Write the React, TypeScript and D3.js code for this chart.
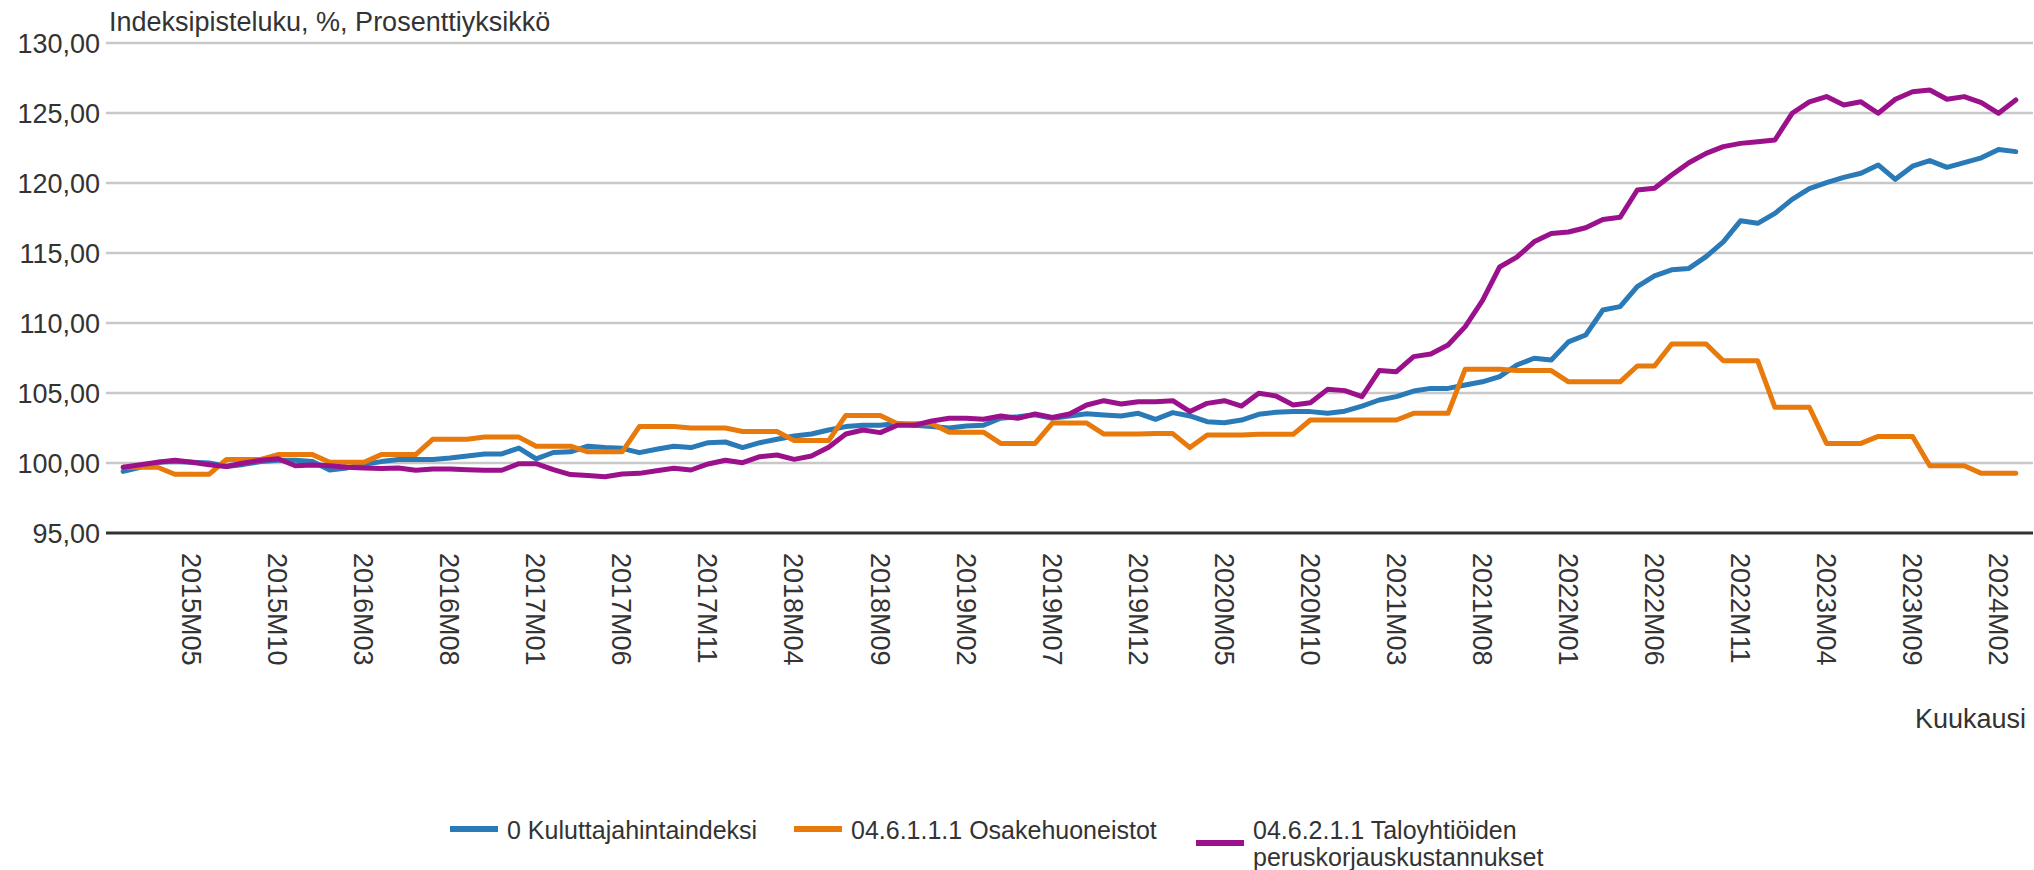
import React from 'react';
import * as d3 from 'd3';

// kuukaudet 2015M01 .. 2024M03
const startYear = 2015;
const monthCount = 111;
const months: string[] = [];
for (let i = 0; i < monthCount; i++) {
  const y = startYear + Math.floor(i / 12);
  const m = (i % 12) + 1;
  months.push(y + 'M' + (m < 10 ? '0' + m : '' + m));
}

const tickLabels = [
  '2015M05', '2015M10', '2016M03', '2016M08', '2017M01', '2017M06', '2017M11', '2018M04',
  '2018M09', '2019M02', '2019M07', '2019M12', '2020M05', '2020M10', '2021M03', '2021M08',
  '2022M01', '2022M06', '2022M11', '2023M04', '2023M09', '2024M02',
];

const yTicks = [95, 100, 105, 110, 115, 120, 125, 130];

const kuluttajahinta = [
  99.4, 99.7, 100.05, 100.1, 100.05, 100.0, 99.75, 99.9, 100.1, 100.2, 100.2, 100.1,
  99.5, 99.65, 99.9, 100.1, 100.25, 100.25, 100.25, 100.35, 100.5, 100.65, 100.65, 101.07,
  100.3, 100.75, 100.8, 101.2, 101.1, 101.05, 100.74, 100.98, 101.2, 101.1, 101.45, 101.5,
  101.1, 101.45, 101.7, 101.93, 102.07, 102.36, 102.6, 102.7, 102.7, 102.83, 102.7, 102.6,
  102.5, 102.65, 102.7, 103.2, 103.3, 103.45, 103.2, 103.36, 103.52, 103.43, 103.36, 103.55,
  103.12, 103.6, 103.36, 102.95, 102.88, 103.07, 103.48, 103.62, 103.67, 103.67, 103.55, 103.7,
  104.07, 104.5, 104.74, 105.14, 105.33, 105.33, 105.57, 105.8, 106.17, 107.0, 107.48, 107.36,
  108.65, 109.14, 110.93, 111.17, 112.6, 113.36, 113.8, 113.9, 114.74, 115.8, 117.3, 117.12,
  117.83, 118.83, 119.6, 120.02, 120.4, 120.7, 121.29, 120.26, 121.2, 121.6, 121.12, 121.45,
  121.8, 122.4, 122.24,
];

const osakehuoneistot = [
  99.7, 99.7, 99.7, 99.2, 99.2, 99.2, 100.25, 100.25, 100.25, 100.6, 100.6, 100.6,
  100.05, 100.05, 100.05, 100.6, 100.6, 100.6, 101.7, 101.7, 101.7, 101.85, 101.85, 101.85,
  101.2, 101.2, 101.2, 100.8, 100.8, 100.8, 102.6, 102.6, 102.6, 102.5, 102.5, 102.5,
  102.25, 102.25, 102.25, 101.6, 101.6, 101.6, 103.4, 103.4, 103.4, 102.8, 102.8, 102.8,
  102.2, 102.2, 102.2, 101.4, 101.4, 101.4, 102.85, 102.85, 102.85, 102.07, 102.07, 102.07,
  102.1, 102.1, 101.1, 102.0, 102.0, 102.0, 102.05, 102.05, 102.05, 103.07, 103.07, 103.07,
  103.07, 103.07, 103.07, 103.55, 103.55, 103.55, 106.7, 106.7, 106.7, 106.6, 106.6, 106.6,
  105.8, 105.8, 105.8, 105.8, 106.93, 106.93, 108.5, 108.5, 108.5, 107.3, 107.3, 107.3,
  103.98, 103.98, 103.98, 101.4, 101.4, 101.4, 101.9, 101.9, 101.9, 99.8, 99.8, 99.8,
  99.26, 99.26, 99.26,
];

const peruskorjaus = [
  99.7, 99.88, 100.05, 100.2, 100.05, 99.88, 99.75, 100.0, 100.2, 100.3, 99.8, 99.85,
  99.8, 99.7, 99.65, 99.6, 99.65, 99.48, 99.57, 99.57, 99.52, 99.48, 99.48, 99.95,
  99.95, 99.52, 99.17, 99.1, 99.02, 99.21, 99.26, 99.45, 99.62, 99.5, 99.93, 100.2,
  100.02, 100.45, 100.57, 100.26, 100.5, 101.12, 102.07, 102.36, 102.17, 102.7, 102.7, 103.0,
  103.19, 103.19, 103.12, 103.36, 103.19, 103.5, 103.26, 103.5, 104.14, 104.45, 104.21, 104.38,
  104.38, 104.45, 103.67, 104.26, 104.45, 104.07, 104.98, 104.79, 104.14, 104.31, 105.26, 105.17,
  104.74, 106.6, 106.52, 107.6, 107.79, 108.43, 109.74, 111.6, 114.0, 114.7, 115.8, 116.4,
  116.5, 116.8, 117.4, 117.55, 119.5, 119.62, 120.57, 121.45, 122.12, 122.6, 122.83, 122.95,
  123.07, 124.98, 125.8, 126.17, 125.57, 125.8, 124.98, 125.98, 126.52, 126.64, 125.98, 126.17,
  125.74, 124.98, 125.93,
];

const seriesNames = [
  ['0 Kuluttajahintaindeksi'],
  ['04.6.1.1.1 Osakehuoneistot'],
  ['04.6.2.1.1 Taloyhtiöiden', 'peruskorjauskustannukset'],
];
const seriesColors = ['#2a7ab8', '#e87a0c', '#9b118c'];

const W = 2034;
const H = 870;
const left = 106;
const right = 2033;
const top = 43;
const bottom = 533;
const font = 'Liberation Sans, Arial, sans-serif';

function App() {
  const x = d3.scaleLinear().domain([-1, monthCount]).range([left, right]);
  const y = d3.scaleLinear().domain([95, 130]).range([bottom, top]);

  const line = d3.line<number>()
    .x((d, i) => x(i))
    .y(d => y(d));

  const data = [kuluttajahinta, osakehuoneistot, peruskorjaus];

  const legendX = [450, 794, 1196];

  return (
    <svg width={W} height={H} style={{ position: 'absolute', left: 0, top: 0 }} fontFamily={font}>
      <rect width={W} height={H} fill="#fff" />
      <text x={109} y={31} fontSize={27} fill="#333">Indeksipisteluku, %, Prosenttiyksikkö</text>
      {yTicks.map(t => (
        <g key={t}>
          {t !== 95 && (
            <line x1={left} x2={right} y1={y(t)} y2={y(t)} stroke="#c8c8c8" strokeWidth={2.5} />
          )}
          <text x={100} y={y(t)} dy="0.36em" textAnchor="end" fontSize={27} fill="#333">
            {d3.format('.2f')(t).replace('.', ',')}
          </text>
        </g>
      ))}
      <line x1={left} x2={right} y1={y(95)} y2={y(95)} stroke="#333" strokeWidth={3} />
      {tickLabels.map(lab => {
        const i = months.indexOf(lab);
        const tx = x(i);
        return (
          <text key={lab} transform={`translate(${tx},553) rotate(90)`} dy="0.36em"
            fontSize={27} fill="#333">{lab}</text>
        );
      })}
      <text x={2026} y={728} textAnchor="end" fontSize={27} fill="#333">Kuukausi</text>
      {data.map((d, k) => (
        <path key={k} d={line(d) || ''} fill="none" stroke={seriesColors[k]} strokeWidth={5}
          strokeLinejoin="round" strokeLinecap="round" />
      ))}
      {seriesNames.map((names, k) => {
        const lx = legendX[k];
        const sy = names.length > 1 ? 843 : 829;
        return (
          <g key={k}>
            <line x1={lx} x2={lx + 48} y1={sy} y2={sy} stroke={seriesColors[k]} strokeWidth={6} />
            {names.map((n, j) => (
              <text key={j} x={lx + 57} y={830 + j * 27} dy="0.36em" fontSize={25} fill="#333">{n}</text>
            ))}
          </g>
        );
      })}
    </svg>
  );
}

export default App;
